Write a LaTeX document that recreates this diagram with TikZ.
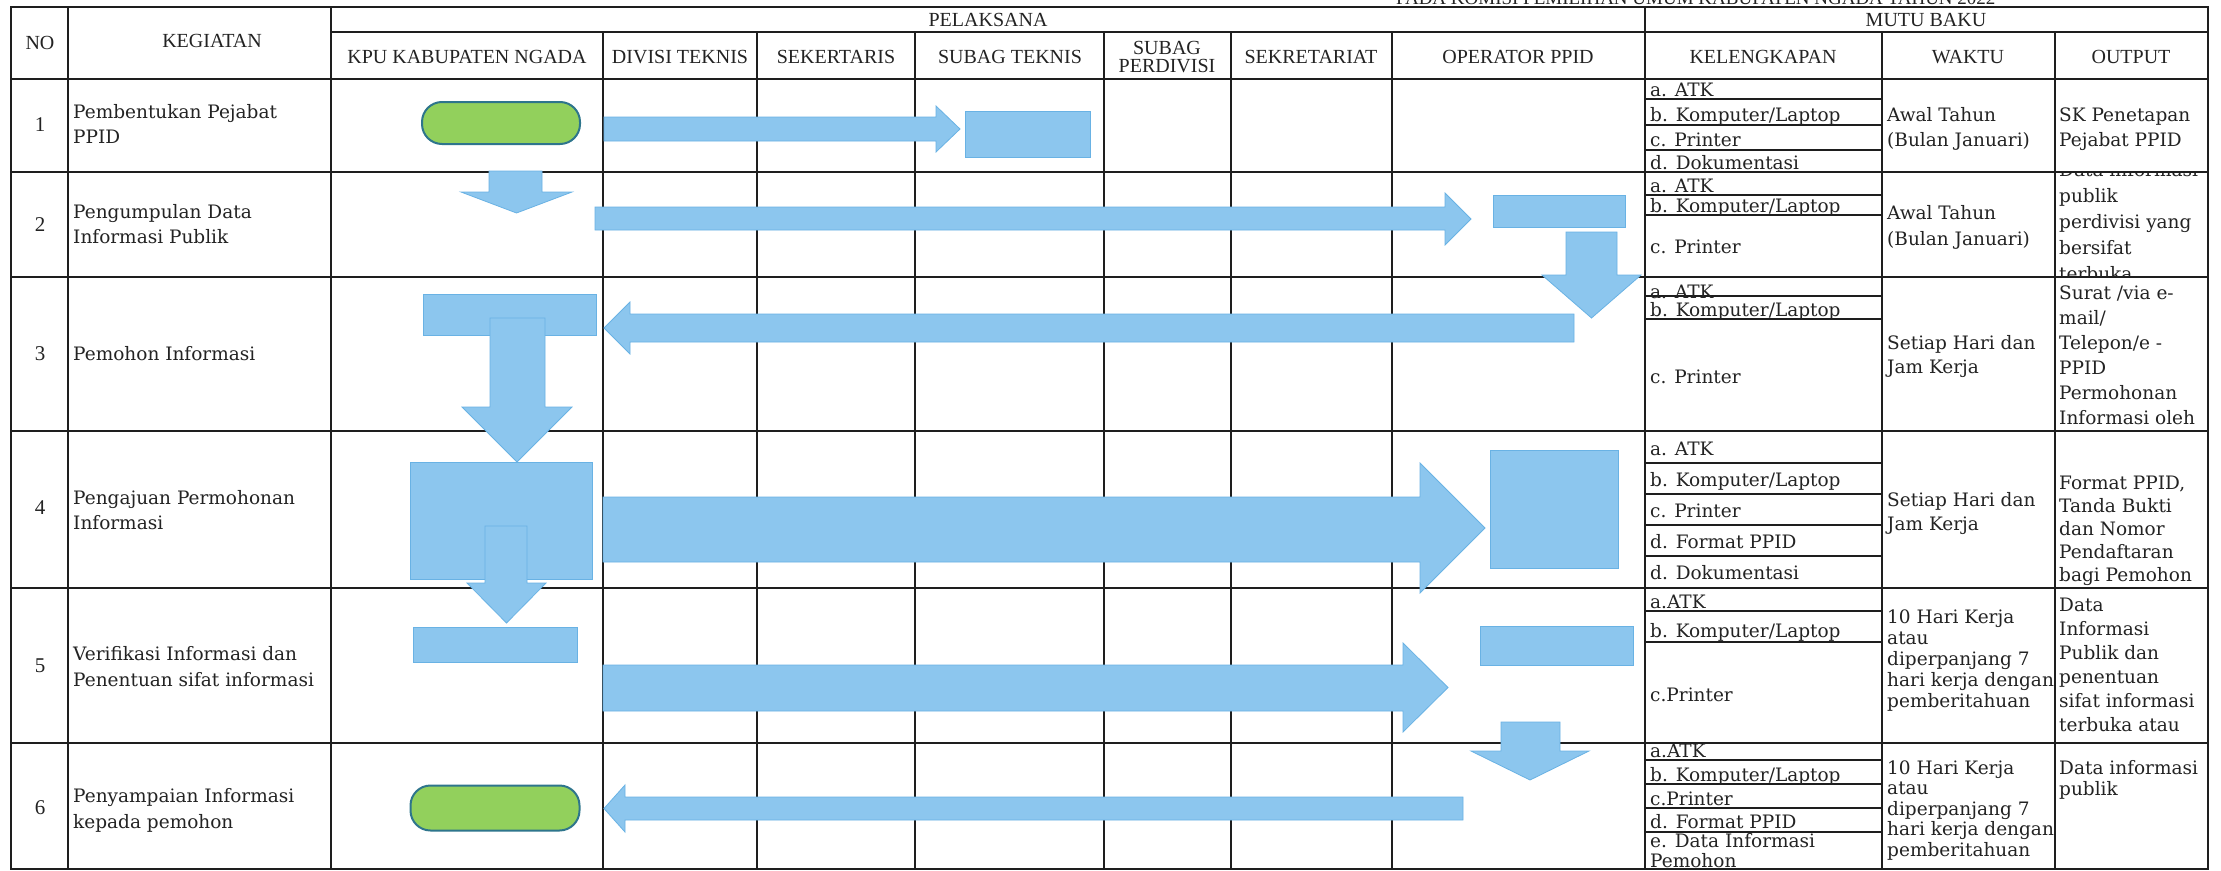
\documentclass[tikz,border=0pt]{standalone}
\usepackage{fontspec}
\setmainfont{DejaVu Serif}
\newfontfamily\hdrfont{Liberation Serif}
\definecolor{sopblue}{RGB}{140,198,238}
\definecolor{sopedge}{RGB}{105,178,228}
\definecolor{sopgreen}{RGB}{146,208,92}
\definecolor{sopgreenedge}{RGB}{46,117,140}
\definecolor{lineblack}{RGB}{30,30,30}
\definecolor{textblack}{RGB}{35,35,35}
% horizontal block arrow: tail x, body top, body bottom, head top, head bottom, head base x, tip x
\newcommand{\sopH}[7]{\path[blk] (#1,#2) -- (#6,#2) -- (#6,#4) -- (#7,{(#4+#5)/2}) -- (#6,#5) -- (#6,#3) -- (#1,#3) -- cycle;}
% vertical block arrow: body x1, body x2, body top, head base y, head x1, head x2, tip y
\newcommand{\sopV}[7]{\path[blk] (#1,#3) -- (#2,#3) -- (#2,#4) -- (#6,#4) -- ({(#5+#6)/2},#7) -- (#5,#4) -- (#1,#4) -- cycle;}
\newcommand{\soplines}[5]{\foreach \s [count=\i] in {#5} {\node[txt, anchor=base west] (#1-\i) at (#2,{#3+(\i-1)*#4}) {\s};}}
\newcommand{\sopt}[4]{\node[txt, anchor=base west] (#1) at (#2,#3) {#4};}
\begin{document}
\begin{tikzpicture}[x=1pt,y=-1pt,
  grid/.style={line width=2.6pt, draw=lineblack, line cap=rect},
  vgrid/.style={line width=2.1pt, draw=lineblack, line cap=rect},
  subgrid/.style={line width=1.3pt, draw=lineblack},
  hdr/.style={font=\hdrfont\fontsize{20}{22}\selectfont, inner sep=0pt, text=textblack},
  txt/.style={font=\fontsize{18.5}{21}\selectfont, inner sep=0pt, text=textblack},
  blk/.style={fill=sopblue, draw=sopedge, line width=0.8pt},
  boxn/.style={blk, inner sep=0pt, outer sep=0pt, anchor=north west},
  term/.style={fill=sopgreen, draw=sopgreenedge, line width=2pt, inner sep=0pt, rounded corners=20pt}
]
\useasboundingbox (0,0) rectangle (2221,870);
\fill[white] (0,0) rectangle (2221,870);

% title (cut at the top edge, as in the reference)
\node[hdr, font=\hdrfont\fontsize{19}{21}\selectfont, anchor=base west] (title) at (1396,5) {PADA KOMISI PEMILIHAN UMUM KABUPATEN NGADA TAHUN 2022};

% table grid
\draw[grid] (11,7) -- (2208,7);
\draw[grid] (331,32) -- (2208,32);
\foreach \y in {79,172,277,431,588,743,869} \draw[grid] (11,\y) -- (2208,\y);
\foreach \x in {11,68,331,1645,2208} \draw[vgrid] (\x,7) -- (\x,869);
\foreach \x in {603,757,915,1104,1231,1392,1882,2055} \draw[vgrid] (\x,32) -- (\x,869);
\foreach \y in {99,125,150,195,215,296,319,463,494,525,556,611,642,760,784,808,832} \draw[subgrid] (1645,\y) -- (1882,\y);

% headers
\node[hdr] (hNo) at (40,43) {NO};
\node[hdr] (hKeg) at (212,41) {KEGIATAN};
\node[hdr] (hPel) at (988,20) {PELAKSANA};
\node[hdr] (hMutu) at (1926,20) {MUTU BAKU};
\node[hdr] (hKpu) at (467,57) {KPU KABUPATEN NGADA};
\node[hdr] (hDiv) at (680,57) {DIVISI TEKNIS};
\node[hdr] (hSek) at (836,57) {SEKERTARIS};
\node[hdr] (hSubT) at (1010,57) {SUBAG TEKNIS};
\node[hdr] (hSubP1) at (1167,48) {SUBAG};
\node[hdr] (hSubP2) at (1167,66) {PERDIVISI};
\node[hdr] (hSekr) at (1311,57) {SEKRETARIAT};
\node[hdr] (hOp) at (1518,57) {OPERATOR PPID};
\node[hdr] (hKel) at (1763,57) {KELENGKAPAN};
\node[hdr] (hWak) at (1968,57) {WAKTU};
\node[hdr] (hOut) at (2131,57) {OUTPUT};

% numbers
\node[hdr, font=\hdrfont\fontsize{21}{23}\selectfont] (n1) at (40,125) {1};
\node[hdr, font=\hdrfont\fontsize{21}{23}\selectfont] (n2) at (40,225) {2};
\node[hdr, font=\hdrfont\fontsize{21}{23}\selectfont] (n3) at (40,354) {3};
\node[hdr, font=\hdrfont\fontsize{21}{23}\selectfont] (n4) at (40,508) {4};
\node[hdr, font=\hdrfont\fontsize{21}{23}\selectfont] (n5) at (40,666) {5};
\node[hdr, font=\hdrfont\fontsize{21}{23}\selectfont] (n6) at (40,808) {6};

% kegiatan
\soplines{k1}{73}{118}{25}{Pembentukan Pejabat, PPID}
\soplines{k2}{73}{218}{25}{Pengumpulan Data, Informasi Publik}
\soplines{k3}{73}{360}{25}{Pemohon Informasi}
\soplines{k4}{73}{504}{25}{Pengajuan Permohonan, Informasi}
\soplines{k5}{73}{660}{26}{Verifikasi Informasi dan, Penentuan sifat informasi}
\soplines{k6}{73}{802}{26}{Penyampaian Informasi, kepada pemohon}

% kelengkapan
\sopt{e1a}{1650}{96}{a. ATK}
\sopt{e1b}{1650}{121}{b. Komputer/Laptop}
\sopt{e1c}{1650}{146}{c. Printer}
\sopt{e1d}{1650}{169}{d. Dokumentasi}
\sopt{e2a}{1650}{192}{a. ATK}
\sopt{e2b}{1650}{212}{b. Komputer/Laptop}
\sopt{e2c}{1650}{253}{c. Printer}
\sopt{e3a}{1650}{298}{a. ATK}
\sopt{e3b}{1650}{316}{b. Komputer/Laptop}
\sopt{e3c}{1650}{383}{c. Printer}
\sopt{e4a}{1650}{455}{a. ATK}
\sopt{e4b}{1650}{486}{b. Komputer/Laptop}
\sopt{e4c}{1650}{517}{c. Printer}
\sopt{e4d}{1650}{548}{d. Format PPID}
\sopt{e4e}{1650}{579}{d. Dokumentasi}
\sopt{e5a}{1650}{608}{a.ATK}
\sopt{e5b}{1650}{637}{b. Komputer/Laptop}
\sopt{e5c}{1650}{701}{c.Printer}
\sopt{e6a}{1650}{757}{a.ATK}
\sopt{e6b}{1650}{781}{b. Komputer/Laptop}
\sopt{e6c}{1650}{805}{c.Printer}
\sopt{e6d}{1650}{828}{d. Format PPID}
\sopt{e6e}{1650}{847}{e. Data Informasi}
\sopt{e6f}{1650}{867}{Pemohon}

% waktu
\soplines{w1}{1887}{121}{25}{Awal Tahun, (Bulan Januari)}
\soplines{w2}{1887}{219}{26}{Awal Tahun, (Bulan Januari)}
\soplines{w3}{1887}{349}{24}{Setiap Hari dan, Jam Kerja}
\soplines{w4}{1887}{506}{24}{Setiap Hari dan, Jam Kerja}
\soplines{w5}{1887}{623}{21}{10 Hari Kerja, atau, diperpanjang 7, hari kerja dengan, pemberitahuan}
\soplines{w6}{1887}{774}{20.5}{10 Hari Kerja, atau, diperpanjang 7, hari kerja dengan, pemberitahuan}

% output
\soplines{o1}{2059}{121}{25}{SK Penetapan, Pejabat PPID}
\begin{scope}
\clip (2056,173) rectangle (2207,276);
\soplines{o2}{2059}{176}{26}{Data informasi, publik, perdivisi yang, bersifat, terbuka}
\end{scope}
\soplines{o3}{2059}{299}{25}{Surat /via e-, {mail/}, {Telepon/e -}, PPID, Permohonan, Informasi oleh}
\soplines{o4}{2059}{489}{23}{{Format PPID,}, Tanda Bukti, dan Nomor, Pendaftaran, bagi Pemohon}
\soplines{o5}{2059}{611}{24}{Data, Informasi, Publik dan, penentuan, sifat informasi, terbuka atau}
\soplines{o6}{2059}{774}{21}{Data informasi, publik}

% flow shapes
\node[term, minimum width=158pt, minimum height=42pt] (t1) at (501,123) {};
\sopH{604}{117}{141}{106}{152}{936}{960}
\node[boxn, minimum width=125pt, minimum height=46pt] (b1) at (965,111) {};
\sopV{489}{542}{171}{192}{461}{572}{213}
\sopH{595}{207}{230}{193}{245}{1445}{1471}
\node[boxn, minimum width=132pt, minimum height=32pt] (b2) at (1493,195) {};
\sopV{1566}{1617}{232}{275}{1542}{1641}{318}
\node[boxn, minimum width=173pt, minimum height=41pt] (b3) at (423,294) {};
\sopV{490}{545}{318}{407}{462}{572}{462}
\sopH{1574}{314}{342}{302}{354}{630}{604}
\node[boxn, minimum width=182pt, minimum height=117pt] (b4) at (410,462) {};
\sopV{485}{527}{526}{583}{467}{546}{623}
\sopH{603}{497}{562}{463}{593}{1420}{1485}
\node[boxn, minimum width=128pt, minimum height=118pt] (b5) at (1490,450) {};
\node[boxn, minimum width=164pt, minimum height=35pt] (b6) at (413,627) {};
\sopH{603}{665}{711}{643}{732}{1403}{1448}
\node[boxn, minimum width=153pt, minimum height=39pt] (b7) at (1480,626) {};
\sopV{1501}{1560}{722}{751}{1471}{1589}{780}
\node[term, minimum width=169pt, minimum height=45pt] (t2) at (495,808) {};
\sopH{1463}{797}{820}{785}{832}{625}{604}
\end{tikzpicture}
\end{document}
